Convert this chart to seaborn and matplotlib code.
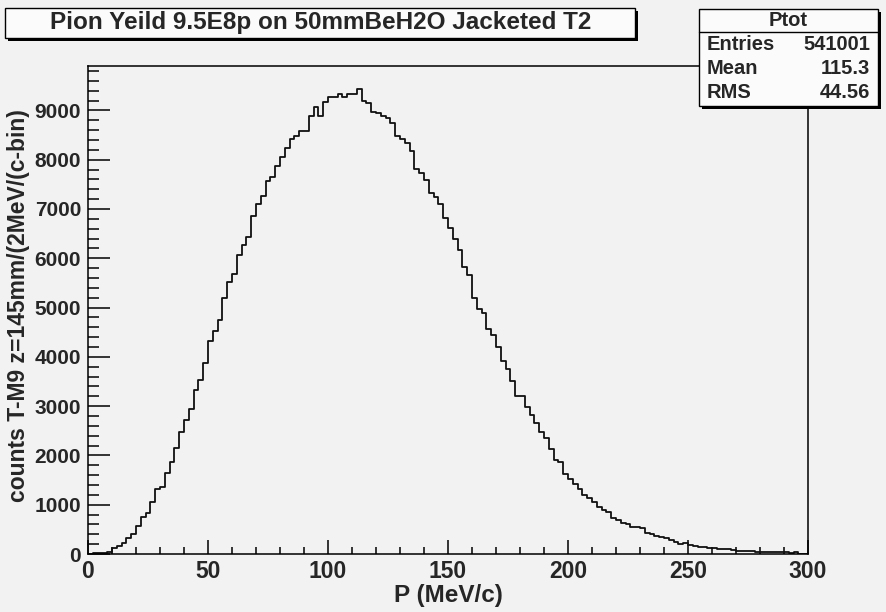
import numpy as np
import pandas as pd
import matplotlib
matplotlib.use("Agg")
import matplotlib.pyplot as plt
from matplotlib.patches import Rectangle
from matplotlib.ticker import MultipleLocator
import seaborn as sns

# --- DATA (2 MeV/c bins from 0 to 300) ---
BIN_WIDTH = 2
P_MIN, P_MAX = 0, 300
COUNTS = [
    5, 20, 25, 30, 50, 120, 160, 215, 320, 410,
    575, 745, 840, 1060, 1320, 1360, 1635, 1870, 2155, 2465,
    2720, 2935, 3320, 3540, 3873, 4326, 4523, 4739, 5199, 5516,
    5679, 6057, 6260, 6422, 6848, 7098, 7265, 7560, 7652, 7869,
    8045, 8234, 8423, 8484, 8585, 8585, 8883, 9072, 8883, 9173,
    9261, 9261, 9322, 9261, 9322, 9322, 9430, 9194, 9140, 8970,
    8937, 8883, 8835, 8748, 8485, 8418, 8328, 8173, 7808, 7720,
    7585, 7328, 7233, 7098, 6814, 6618, 6388, 6165, 5820, 5655,
    5195, 4962, 4881, 4556, 4450, 4191, 3921, 3745, 3515, 3204,
    3204, 2988, 2819, 2650, 2474, 2359, 2123, 1906, 1870, 1620,
    1521, 1420, 1325, 1205, 1130, 1055, 960, 892, 859, 737,
    690, 622, 602, 555, 555, 534, 433, 399, 372, 352,
    324, 284, 250, 203, 230, 183, 169, 149, 149, 115,
    115, 101, 101, 95, 81, 68, 68, 68, 61, 41,
    41, 35, 35, 35, 35, 35, 14, 47, 5, 5,
]
TITLE = "Pion Yeild 9.5E8p on 50mmBeH2O Jacketed T2"
STATS_NAME = "Ptot"
STATS_ROWS = [("Entries", "541001"), ("Mean", "115.3"), ("RMS", "44.56")]
X_LABEL = "P (MeV/c)"
Y_LABEL = "counts T-M9 z=145mm/(2MeV/(c-bin)"
Y_MAX = 9900
# ---------------------------------------------------------------------------

W, H = 887, 612
BG = "#f2f2f2"
FONT = "Liberation Sans"

sns.set_theme(style="white")
plt.rcParams["font.family"] = [FONT, "DejaVu Sans"]
plt.rcParams["font.weight"] = "bold"

centers = np.arange(P_MIN, P_MAX, BIN_WIDTH) + BIN_WIDTH / 2
df = pd.DataFrame({"p": centers, "n": COUNTS})

fig = plt.figure(figsize=(W / 100, H / 100), dpi=100, facecolor=BG)
ax = fig.add_axes([88 / W, 1 - 554 / H, (808 - 88) / W, (554 - 66) / H])
ax.set_facecolor(BG)

sns.histplot(data=df, x="p", weights="n", binwidth=BIN_WIDTH, binrange=(P_MIN, P_MAX),
             element="step", fill=False, color="#111111", linewidth=1.3, ax=ax)

ax.set_xlim(P_MIN, P_MAX)
ax.set_ylim(0, Y_MAX)

# ROOT-ish axes: inward ticks, bottom/left only
ax.xaxis.set_major_locator(MultipleLocator(50))
ax.xaxis.set_minor_locator(MultipleLocator(10))
ax.yaxis.set_major_locator(MultipleLocator(1000))
ax.yaxis.set_minor_locator(MultipleLocator(200))
ax.tick_params(axis="x", which="major", direction="in", length=10, width=1.1,
               color="black", pad=4, labelsize=16.5, bottom=True, top=False)
ax.tick_params(axis="x", which="minor", direction="in", length=5, width=1.1,
               color="black", bottom=True, top=False)
ax.tick_params(axis="y", which="major", direction="in", length=15.5, width=1.1,
               color="black", pad=5, labelsize=15, left=True, right=False)
ax.tick_params(axis="y", which="minor", direction="in", length=7.7, width=1.1,
               color="black", left=True, right=False)
for lab in ax.get_xticklabels() + ax.get_yticklabels():
    lab.set_fontweight("bold")
for sp in ax.spines.values():
    sp.set_visible(True)
    sp.set_color("black")
    sp.set_linewidth(1.1)

ax.set_xlabel(X_LABEL, fontsize=17.5, fontweight="bold", labelpad=1)
ax.set_ylabel(Y_LABEL, fontsize=16.5, fontweight="bold")
# label's anchor is its right-hand side (rotated text), place it ~30 px from the left edge
ax.yaxis.set_label_coords((30 - 88) / (808 - 88), 0.51)


def fx(x):
    return x / W


def fy(y):
    return 1 - y / H


def box(x0, y0, x1, y1, shadow=3):
    fig.add_artist(Rectangle((fx(x0 + shadow), fy(y1 + shadow)), fx(x1 - x0), (y1 - y0) / H,
                             transform=fig.transFigure, facecolor="black", edgecolor="black",
                             linewidth=0, zorder=5))
    fig.add_artist(Rectangle((fx(x0), fy(y1)), fx(x1 - x0), (y1 - y0) / H,
                             transform=fig.transFigure, facecolor="#fbfbfb", edgecolor="black",
                             linewidth=1.0, zorder=6))


# title box
box(5, 8, 635, 38)
fig.text(fx(321), fy(23), TITLE, ha="center", va="center", fontsize=17.5,
         fontweight="bold", zorder=7)

# stats box
box(699, 9, 878, 106)
fig.add_artist(plt.Line2D([fx(699), fx(878)], [fy(32), fy(32)], transform=fig.transFigure,
                          color="black", linewidth=1.0, zorder=7))
fig.text(fx(788), fy(20), STATS_NAME, ha="center", va="center", fontsize=14.5,
         fontweight="bold", zorder=7)
for i, (name, val) in enumerate(STATS_ROWS):
    yy = fy(45 + i * 24)
    fig.text(fx(707), yy, name, ha="left", va="center", fontsize=14.5, fontweight="bold", zorder=7)
    fig.text(fx(870), yy, val, ha="right", va="center", fontsize=14.5, fontweight="bold", zorder=7)

fig.savefig("out.png", dpi=100, facecolor=BG)
